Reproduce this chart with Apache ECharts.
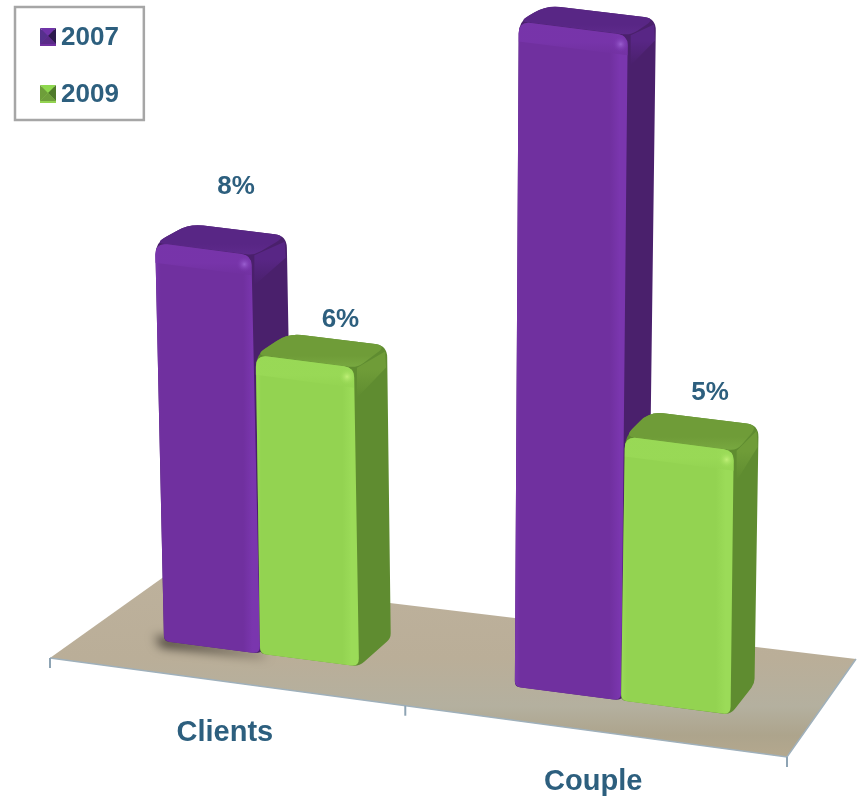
<!DOCTYPE html>
<html>
<head>
<meta charset="utf-8">
<style>html,body{margin:0;padding:0;background:#fff}#chart{width:864px;height:800px}</style>
<script src="https://cdn.jsdelivr.net/npm/echarts@6/dist/echarts.min.js"></script>
</head>
<body>
<div id="chart"></div>
<script>
// Chart data
const categories = ['Clients', 'Couple'];
const values2007 = [8, 12.6];
const values2009 = [6, 5];
const tickPositions = [0, 0.508, 1];

// Appearance
const textColor = '#2d5f7e';
const fontFamily = '"Liberation Sans", Arial, sans-serif';
const purple = { front: '#70309f', edge: '#7a36ae', side: '#4a206c', top: '#582685', glow: '#9a5fd0', sideEdge: '#5e2a8c' };
const green = { front: '#93d351', edge: '#9bdb58', side: '#5f8c30', top: '#6f9c38', glow: '#c0f078', sideEdge: '#78a840' };

// Floor outline on the page: front-left, front-right, back-right, back-left
const floorQuad = [[50, 658], [787, 757], [856, 659], [165, 576]];
const gridBox = { left: 0, top: 0, width: 800, height: 800 };
const depthFront = 0.31, depthBack = 0.63, barSpan = 0.142, floorShift = 0.008;

// Offset of each value label from the back edge of its bar; null leaves the bar unlabelled
const labelOffsets = { '2007': [[-2, -43], null], '2009': [[3, -20], [6, -26]] };

// Maps unit-square floor coordinates onto the floor outline in perspective
const project = (function () {
  const [[x0, y0], [x1, y1], [x2, y2], [x3, y3]] = floorQuad;
  const dx1 = x1 - x2, dx2 = x3 - x2, dx3 = x0 - x1 + x2 - x3;
  const dy1 = y1 - y2, dy2 = y3 - y2, dy3 = y0 - y1 + y2 - y3;
  const den = dx1 * dy2 - dx2 * dy1;
  const g = (dx3 * dy2 - dx2 * dy3) / den, h = (dx1 * dy3 - dx3 * dy1) / den;
  const a = x1 - x0 + g * x1, b = x3 - x0 + h * x3;
  const d = y1 - y0 + g * y1, e = y3 - y0 + h * y3;
  return function (u, v) {
    const w = g * u + h * v + 1;
    return [(a * u + b * v + x0) / w, (d * u + e * v + y0) / w];
  };
})();

// Lifts a floor point by a pixel height, with slight convergence of the verticals
function lift(p, height, v) {
  const depthShare = (v - depthFront) / (depthBack - depthFront);
  const shrink = 1 - 0.02 * depthShare;
  return [p[0] + height * (p[0] - 441) / 12500 - 2.5 * depthShare, p[1] - height * shrink];
}

// Path through the points with rounded corners; radii are given per vertex
function roundedPath(points, radii) {
  const n = points.length;
  let path = '';
  for (let i = 0; i < n; i++) {
    const p = points[i], prev = points[(i + n - 1) % n], next = points[(i + 1) % n];
    const r = radii[i];
    const lenA = Math.hypot(prev[0] - p[0], prev[1] - p[1]);
    const lenB = Math.hypot(next[0] - p[0], next[1] - p[1]);
    const a = [p[0] + (prev[0] - p[0]) * r / lenA, p[1] + (prev[1] - p[1]) * r / lenA];
    const b = [p[0] + (next[0] - p[0]) * r / lenB, p[1] + (next[1] - p[1]) * r / lenB];
    path += (i ? 'L' : 'M') + a[0] + ' ' + a[1] + 'Q' + p[0] + ' ' + p[1] + ' ' + b[0] + ' ' + b[1];
  }
  return path + 'Z';
}

const linear = (x0, y0, x1, y1, stops) => new echarts.graphic.LinearGradient(x0, y0, x1, y1,
  stops.map(([offset, color]) => ({ offset, color })));

function floorPosition(api, index) {
  const coord = api.coord([index, 0]);
  return (coord[0] - gridBox.left) / gridBox.width + floorShift;
}

// Draws one bar of the pair in a category; side is -1 for the left bar, 0 for the right bar
function barRenderer(name, colors, side, showShadow) {
  return function (params, api) {
    const index = api.value(0);
    const value = api.value(1);
    const uc = floorPosition(api, index);
    const bandShare = api.size([1, 0])[0] / gridBox.width;
    const width = bandShare * barSpan * 2;
    const u0 = uc + side * width, u1 = u0 + width;
    const height = api.size([0, value])[1] * (0.966 + 0.12 * (uc - floorShift));

    const fl = project(u0, depthFront), fr = project(u1, depthFront);
    const br = project(u1, depthBack), bl = project(u0, depthBack);
    const tfl = lift(fl, height, depthFront), tfr = lift(fr, height, depthFront);
    const tbr = lift(br, height, depthBack), tbl = lift(bl, height, depthBack);
    const tfrFace = [tfr[0] - 3, tfr[1]];

    const children = [];
    if (showShadow && params.dataIndex === 0) {
      // Soft contact shadow: the shape sits off the page and only its blur lands on the floor
      const away = 2000;
      const shadowPoints = [[fl[0] - 9, fl[1] - 5], fr, [fr[0] + 8, fr[1] + 3], [fl[0] - 3, fl[1] + 5]];
      children.push({
        type: 'polygon',
        shape: { points: shadowPoints.map(p => [p[0] - away, p[1]]) },
        style: { fill: '#000', shadowBlur: 11, shadowColor: 'rgba(45,40,34,1)', shadowOffsetX: away }
      });
    }
    // Silhouette carries the colour of the side face
    children.push({
      type: 'path',
      shape: { pathData: roundedPath([fl, fr, br, tbr, tbl, tfl], [5, 7, 5, 12, 14, 12]) },
      style: { fill: colors.side }
    });
    // Top face
    children.push({
      type: 'path',
      shape: { pathData: roundedPath([tfl, tfr, tbr, tbl], [10, 8, 12, 14]) },
      style: { fill: linear(0, 0, 0, 1, [[0, colors.top], [0.65, colors.top], [1, colors.sideEdge]]) }
    });
    // Soft shoulder where the top turns into the side face
    const shoulderDepth = 22;
    children.push({
      type: 'polygon',
      shape: {
        points: [
          [tfr[0], tfr[1]], [tbr[0] - 2, tbr[1] + 6],
          [tbr[0] - 1, tbr[1] + shoulderDepth], [tfr[0], tfr[1] + shoulderDepth + 8]
        ]
      },
      style: { fill: linear(0, 0, 0, 1, [[0, colors.top], [0.4, colors.top], [1, colors.side]]) }
    });
    // Front face
    children.push({
      type: 'path',
      shape: { pathData: roundedPath([fl, fr, tfrFace, tfl], [6, 8, 10, 12]) },
      style: {
        fill: linear(0, 0, 1, 0, [[0, colors.edge], [0.05, colors.front], [0.84, colors.front], [0.93, colors.edge], [1, colors.edge]])
      }
    });
    // Bevel along the top of the front face
    const bevelL = [tfl[0], tfl[1] + 20], bevelR = [tfrFace[0], tfrFace[1] + 20];
    children.push({
      type: 'path',
      shape: { pathData: roundedPath([bevelL, bevelR, tfrFace, tfl], [0, 0, 10, 12]) },
      style: { fill: linear(0, 0, 0, 1, [[0, colors.edge], [0.6, colors.edge], [1, colors.front]]), opacity: 0.7 }
    });
    // Corner highlight
    children.push({
      type: 'circle',
      shape: { cx: tfrFace[0] - 7, cy: tfrFace[1] + 9, r: 8 },
      style: {
        fill: new echarts.graphic.RadialGradient(0.5, 0.5, 0.5, [
          { offset: 0, color: colors.glow }, { offset: 1, color: colors.edge + '00' }
        ])
      }
    });

    // Value label above the back edge
    const offset = labelOffsets[name][index];
    if (offset) {
      children.push({
        type: 'text',
        style: {
          text: value + '%',
          x: (tbl[0] + tbr[0]) / 2 + offset[0],
          y: (tbl[1] + tbr[1]) / 2 + offset[1],
          align: 'center', verticalAlign: 'middle',
          fill: textColor, fontSize: 26, fontWeight: 'bold', fontFamily
        }
      });
    }
    return { type: 'group', children };
  };
}

// Floor plane with its front edge, ticks and category names
function renderFloor(params, api) {
  const children = [{
    type: 'polygon',
    shape: { points: floorQuad },
    style: {
      fill: linear(0, 0, 0, 1, [[0, '#bdb19c'], [0.45, '#baae98'], [0.72, '#b4b09f'], [0.88, '#ada48c'], [1, '#b4a88e']])
    }
  }, {
    type: 'polyline',
    shape: { points: [floorQuad[0], floorQuad[1], floorQuad[2]] },
    style: { fill: 'none', stroke: '#9fb0bb', lineWidth: 1.5 }
  }];
  tickPositions.forEach(function (u) {
    const p = project(u, 0);
    children.push({
      type: 'line',
      shape: { x1: p[0], y1: p[1], x2: p[0], y2: p[1] + 10 },
      style: { stroke: '#8ea4b4', lineWidth: 2 }
    });
  });
  categories.forEach(function (name, i) {
    const p = project(floorPosition(api, i), 0);
    children.push({
      type: 'text',
      style: {
        text: name, x: p[0] - 1, y: p[1] + 51, align: 'center', verticalAlign: 'middle',
        fill: textColor, fontSize: 29, fontWeight: 'bold', fontFamily
      }
    });
  });
  return { type: 'group', children };
}

const chart = echarts.init(document.getElementById('chart'));

// Four-sided bevel painted over a legend swatch: top, right, bottom, left
function swatchBevel(x, y, size, tones) {
  const c = [x + size / 2, y + size / 2];
  const corners = [[x, y], [x + size, y], [x + size, y + size], [x, y + size]];
  return corners.map(function (p, i) {
    return {
      type: 'polygon',
      shape: { points: [p, corners[(i + 1) % 4], c] },
      style: { fill: tones[i] },
      z: 10
    };
  });
}

chart.setOption({
  animation: false,
  legend: {
    left: 15, top: 7,
    orient: 'vertical',
    padding: [18, 25, 12, 25],
    itemGap: 31, itemWidth: 16, itemHeight: 16,
    borderColor: '#a6a6a6', borderWidth: 2.5,
    icon: 'rect', selectedMode: false,
    textStyle: { color: textColor, fontSize: 26, fontWeight: 'bold', fontFamily },
    data: ['2007', '2009']
  },
  grid: { left: gridBox.left, top: gridBox.top, width: gridBox.width, height: gridBox.height },
  xAxis: { type: 'category', data: categories, show: false },
  yAxis: { type: 'value', min: 0, max: 16, show: false },
  graphic: swatchBevel(40, 28, 16, ['#6f33a8', '#2d1a4d', '#5a2a88', '#55308c'])
    .concat(swatchBevel(40, 85, 16, ['#8fd84f', '#4f7a2a', '#6f9e3c', '#6e9e3a'])),
  series: [
    {
      type: 'custom', silent: true, renderItem: renderFloor, clip: false, z: 1,
      data: [[0, 0]], encode: { x: 0, y: 1 }
    },
    {
      name: '2007', type: 'custom', renderItem: barRenderer('2007', purple, -1, true), clip: false, z: 2,
      itemStyle: { color: purple.front },
      data: categories.map((c, i) => [i, values2007[i]]), encode: { x: 0, y: 1 }
    },
    {
      name: '2009', type: 'custom', renderItem: barRenderer('2009', green, 0, false), clip: false, z: 3,
      itemStyle: { color: green.front },
      data: categories.map((c, i) => [i, values2009[i]]), encode: { x: 0, y: 1 }
    }
  ]
});
</script>
</body>
</html>
